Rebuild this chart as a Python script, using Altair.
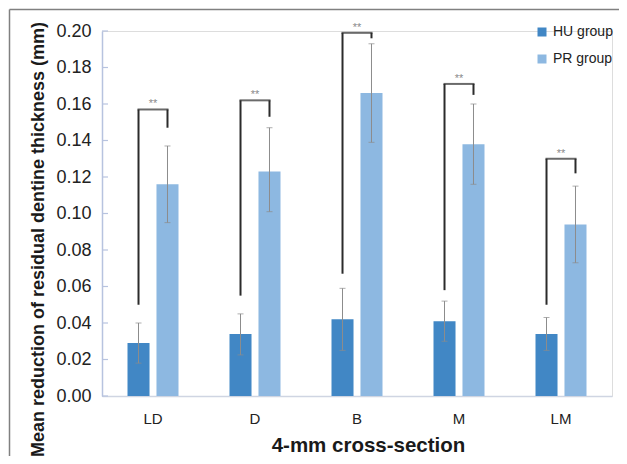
import altair as alt
import pandas as pd

categories = ["LD", "D", "B", "M", "LM"]
groups = ["HU group", "PR group"]
colors = ["#4187c5", "#8db8e1"]

hu_mean = [0.029, 0.034, 0.042, 0.041, 0.034]
hu_low = [0.018, 0.0225, 0.025, 0.030, 0.025]
hu_high = [0.040, 0.045, 0.059, 0.052, 0.043]
pr_mean = [0.116, 0.123, 0.166, 0.138, 0.094]
pr_low = [0.095, 0.101, 0.139, 0.116, 0.073]
pr_high = [0.137, 0.147, 0.193, 0.160, 0.115]

br_left = [0.050, 0.055, 0.067, 0.058, 0.050]
br_top = [0.157, 0.162, 0.199, 0.171, 0.130]
br_right = [0.147, 0.153, 0.196, 0.165, 0.122]
sig = ["**", "**", "**", "**", "**"]

y_ticks = [0.00, 0.02, 0.04, 0.06, 0.08, 0.10, 0.12, 0.14, 0.16, 0.18, 0.20]

FONT = "Liberation Sans"

rows = []
for i, c in enumerate(categories):
    rows.append({"cat": c, "group": groups[0], "mean": hu_mean[i], "low": hu_low[i], "high": hu_high[i]})
    rows.append({"cat": c, "group": groups[1], "mean": pr_mean[i], "low": pr_low[i], "high": pr_high[i]})
bars = pd.DataFrame(rows)

brows = []
for i, c in enumerate(categories):
    brows.append({"cat": c, "group": groups[0], "lo": br_left[i], "hi": br_top[i]})
    brows.append({"cat": c, "group": groups[1], "lo": br_right[i], "hi": br_top[i]})
brv = pd.DataFrame(brows)
brt = pd.DataFrame({"cat": categories, "top": br_top, "sig": sig})
ticks_df = pd.DataFrame({"v": y_ticks})

xscale = alt.Scale(domain=categories, paddingInner=0.5, paddingOuter=0.25)
xoff = alt.XOffset("group:N", scale=alt.Scale(domain=groups, paddingInner=0.24, paddingOuter=0))
yscale = alt.Scale(domain=[0, 0.2], nice=False)

x_axis = alt.Axis(
    title="4-mm cross-section", labelAngle=0, ticks=False, tickSize=0,
    labelFontSize=15, labelFont=FONT, labelColor="#222222",
    labelBaseline="alphabetic", labelPadding=27,
    domainColor="#cfd5e2", domainWidth=1.5,
    titleFont=FONT, titleFontSize=20.5, titleFontWeight="bold", titleColor="#1a1a1a",
    titleX=266, titleY=55, titleBaseline="alphabetic", titleAlign="center",
)
y_axis = alt.Axis(
    title="Mean reduction of residual dentine thickness (mm)",
    values=y_ticks, format=".2f", ticks=False, tickSize=0, grid=False,
    labelOverlap=False, labelFlush=False,
    labelFontSize=18, labelFont=FONT, labelColor="#222222", labelPadding=11,
    domainColor="#b7c3df", domainWidth=1.5,
    titleFont=FONT, titleFontSize=18, titleFontWeight="bold", titleColor="#1a1a1a",
    titleX=-64, titleY=208, titleBaseline="middle", titleAlign="center", titleAngle=270,
)


def X():
    return alt.X("cat:N", scale=xscale, sort=categories, axis=x_axis)


def Y(field):
    return alt.Y(field, scale=yscale, axis=y_axis)


bar_layer = alt.Chart(bars).mark_bar().encode(
    x=X(),
    xOffset=xoff,
    y=Y("mean:Q"),
    color=alt.Color(
        "group:N", scale=alt.Scale(domain=groups, range=colors),
        legend=alt.Legend(
            title=None, orient="none", legendX=433, legendY=-6,
            symbolType="square", symbolSize=81, symbolStrokeWidth=0,
            labelFont=FONT, labelFontSize=14, labelColor="#222222",
            labelOffset=4, rowPadding=13,
        ),
    ),
)

err_rule = alt.Chart(bars).mark_rule(color="#8c8c8c", strokeWidth=1).encode(
    x=X(), xOffset=xoff, y=Y("low:Q"), y2="high:Q",
)
cap_hi = alt.Chart(bars).mark_tick(color="#8c8c8c", orient="horizontal", size=6, thickness=1).encode(
    x=X(), xOffset=xoff, y=Y("high:Q"),
)
cap_lo = alt.Chart(bars).mark_tick(color="#8c8c8c", orient="horizontal", size=6, thickness=1).encode(
    x=X(), xOffset=xoff, y=Y("low:Q"),
)

br_vert = alt.Chart(brv).mark_rule(color="#2b2b2b", strokeWidth=2).encode(
    x=X(), xOffset=xoff, y=Y("lo:Q"), y2="hi:Q",
)
br_horiz = alt.Chart(brt).mark_tick(color="#2b2b2b", orient="horizontal", size=31, thickness=2).encode(
    x=X(), y=Y("top:Q"),
)
br_text = alt.Chart(brt).mark_text(color="#8a8a8a", fontSize=11, font=FONT, dy=-5).encode(
    x=X(), y=Y("top:Q"), text="sig:N",
)

inner_ticks = alt.Chart(ticks_df).mark_rule(color="#b7c3df", strokeWidth=1.2).encode(
    x=alt.value(0), x2=alt.value(6), y=Y("v:Q"),
)

frame_df = pd.DataFrame({"a": [0]})
frame_top = alt.Chart(frame_df).mark_rule(color="#808080", strokeWidth=1.5).encode(
    x=alt.value(-92.5), x2=alt.value(530), y=alt.value(-21.5),
)
frame_left = alt.Chart(frame_df).mark_rule(color="#808080", strokeWidth=1.5).encode(
    x=alt.value(-92.5), y=alt.value(-21.5), y2=alt.value(440),
)

chart = alt.layer(
    bar_layer, err_rule, cap_hi, cap_lo,
    br_vert, br_horiz, br_text, inner_ticks, frame_top, frame_left,
).properties(
    width=510, height=365,
    autosize=alt.AutoSizeParams(type="none"),
    padding={"left": 94, "top": 23, "right": 7, "bottom": 60},
).configure_view(stroke=None).configure_axisY(labelOverlap=False).configure(background="white")

chart.save("out.html", embed_options={"renderer": "svg", "actions": False})
